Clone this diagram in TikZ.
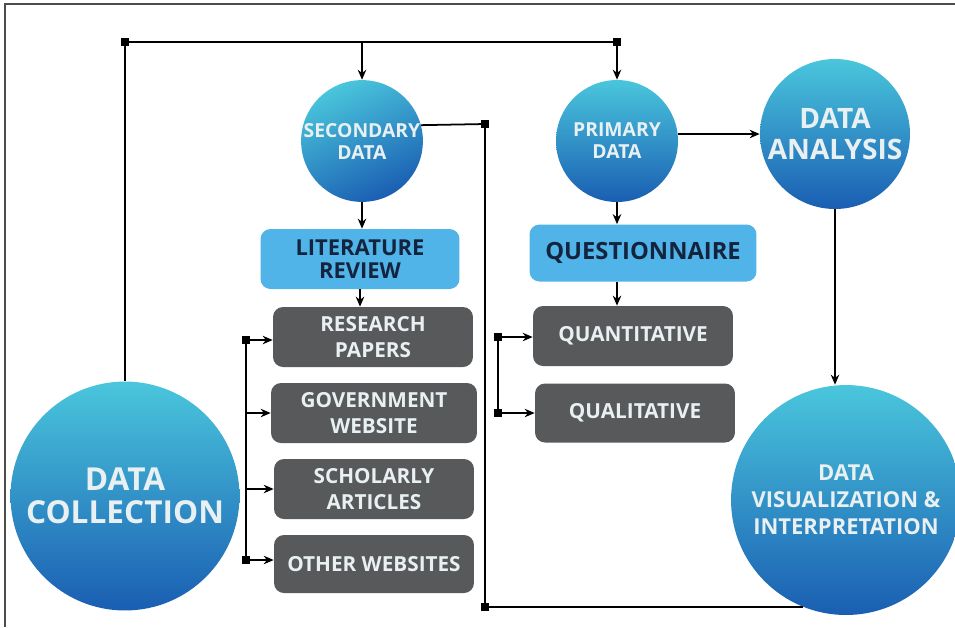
\documentclass[tikz,border=0pt]{standalone}
\usepackage{fontspec}
\setmainfont{Open Sans}
\usetikzlibrary{arrows.meta}

\definecolor{ciantop}{RGB}{74,198,220}
\definecolor{azulbot}{RGB}{26,94,178}
\definecolor{celeste}{RGB}{80,180,232}
\definecolor{marino}{RGB}{20,36,62}
\definecolor{gris}{RGB}{88,89,91}
\definecolor{blanco}{RGB}{232,240,242}

\begin{document}
\begin{tikzpicture}[x=0.02cm, y=-0.02cm,
		bubble/.style={circle, top color=ciantop, bottom color=azulbot, draw=none, align=center, text=blanco, inner sep=0pt},
		bluebox/.style={rounded corners=2mm, fill=celeste, align=center, text=marino, font=\bfseries\fontsize{12.5}{13}\selectfont, minimum width=3.98cm, minimum height=1.2cm},
		graybox/.style={rounded corners=2mm, fill=gris, align=center, text=blanco, font=\bfseries\fontsize{11.8}{14.8}\selectfont, minimum width=4cm, minimum height=1.2cm},
		joint/.style={rectangle, fill=black, minimum size=1.5mm, inner sep=0pt},
		link/.style={line width=1pt},
		>={Stealth[length=2mm, width=1.7mm]}]

	\useasboundingbox (0,0) rectangle (955,627);
	\draw[black!70, line width=0.6pt] (5,627) -- (5,4) -- (955,4);

	% Circulos principales
	\node[bubble, minimum size=2.42cm, shading angle=25, font=\bfseries\fontsize{11}{12.5}\selectfont] (sec) at (362,141) {SECONDARY\\DATA};
	\node[bubble, minimum size=2.44cm, font=\bfseries\fontsize{11}{12.5}\selectfont] (prim) at (617,141) {PRIMARY\\DATA};
	\node[bubble, minimum size=3cm, font=\bfseries\fontsize{16}{18}\selectfont] (ana) at (835,134) {DATA\\ANALYSIS};
	\node[bubble, minimum size=4.58cm, font=\bfseries\fontsize{18}{19}\selectfont] (coll) at (125,496) {DATA\\COLLECTION};
	\node[bubble, minimum size=4.6cm, font=\bfseries\fontsize{12.5}{15.3}\selectfont] (vis) at (846,500) {DATA\\VISUALIZATION \&\\INTERPRETATION};

	% Cajas
	\node[bluebox] (lit) at (360,259) {LITERATURE\\REVIEW};
	\node[bluebox, minimum width=4.54cm, minimum height=1.14cm, font=\bfseries\fontsize{13.5}{14}\selectfont] (quest) at (643,253) {QUESTIONNAIRE};
	\node[graybox] (res) at (373,337) {RESEARCH\\PAPERS};
	\node[graybox, minimum width=4.12cm] (gov) at (374,413) {GOVERNMENT\\WEBSITE};
	\node[graybox] (sch) at (374,489) {SCHOLARLY\\ARTICLES};
	\node[graybox, minimum height=1.16cm] (oth) at (374,564) {OTHER WEBSITES};
	\node[graybox] (quan) at (633,336) {QUANTITATIVE};
	\node[graybox, minimum height=1.18cm] (qual) at (635,413) {QUALITATIVE};

	% Uniones
	\node[joint] (j1) at (125,42) {};
	\node[joint] (j2) at (617,42) {};
	\node[joint] (j3) at (485,124) {};
	\node[joint] (j4) at (485,607) {};
	\node[joint] (j5) at (246,340) {};
	\node[joint] (j6) at (246,560) {};
	\node[joint] (j7) at (498,337) {};
	\node[joint] (j8) at (498,413) {};

	\draw[link] (coll.north) -- (j1.center) -- (j2.center);
	\draw[link, ->] (sec |- j1) -- (sec.north);
	\draw[link, ->] (j2.center) -- (prim.north);
	\draw[link] (sec.15) -- (j3.center) -- (j4.center) -- (vis.248 |- j4);
	\draw[link, ->] (prim.east |- ana.west) -- (ana.west);
	\draw[link, ->] (ana.south) -- (ana.south |- vis.north);
	\draw[link, ->] (sec.south) -- (sec.south |- lit.north);
	\draw[link, ->] (lit.south) -- (lit.south |- res.north);
	\draw[link, ->] (prim.south) -- (prim.south |- quest.north);
	\draw[link, ->] (prim.south |- quest.south) -- (prim.south |- quan.north);

	\draw[link] (j5.center) -- (j6.center);
	\draw[link, ->] (j5.center) -- (j5 -| res.west);
	\draw[link, ->] (j5 |- gov) -- (gov.west);
	\draw[link, ->] (j5 |- sch) -- (sch.west);
	\draw[link, ->] (j6.center) -- (j6 -| oth.west);

	\draw[link] (j7.center) -- (j8.center);
	\draw[link, ->] (j7.center) -- (j7 -| quan.west);
	\draw[link, ->] (j8.center) -- (j8 -| qual.west);

\end{tikzpicture}
\end{document}
